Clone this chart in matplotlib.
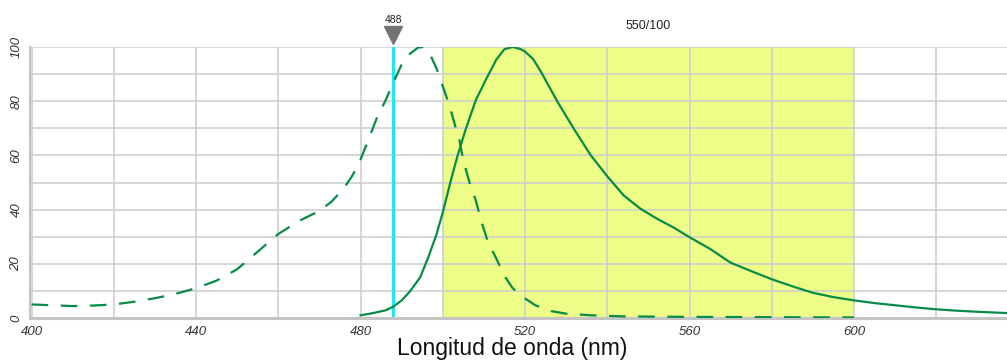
import numpy as np
import matplotlib
matplotlib.use("Agg")
import matplotlib.pyplot as plt
from matplotlib.transforms import blended_transform_factory

plt.rcParams['font.family'] = ['Liberation Sans', 'DejaVu Sans']
plt.rcParams['lines.scale_dashes'] = False

# excitation spectrum (dashed)
ex_nm = [400, 405, 410, 415, 420, 425, 430, 435, 440, 445, 450, 455, 460, 465, 470,
         473, 476, 478, 480, 482, 484, 486, 488, 490, 492, 494, 495, 496, 497, 498.5,
         500, 501.5, 503, 504, 505, 506.5, 508, 509.5, 511, 513, 515, 517, 519.5,
         522.5, 526.5, 530, 536, 544, 560, 580, 600]
ex_val = [5.0, 4.7, 4.4, 4.6, 5.0, 6.0, 7.3, 8.9, 11.0, 13.8, 18.0, 24.5, 31.0, 35.8, 39.5,
          43.0, 48.0, 52.5, 58.5, 66.0, 74.0, 80.0, 87.0, 93.5, 97.5, 99.8, 100, 99.2, 97.0, 92.0,
          85.5, 79.0, 71.0, 66.0, 58.0, 50.0, 43.5, 35.0, 28.0, 22.0, 15.5, 11.0, 7.7,
          4.7, 2.5, 1.6, 1.0, 0.6, 0.4, 0.3, 0.2]

# emission spectrum (solid)
em_nm = [480, 483, 486, 488, 490, 492, 494.5, 496.5, 498.5, 500, 502, 503.5, 505.5, 508,
         510.5, 513, 515, 517, 519, 520, 522, 524, 526, 528, 530, 532, 536, 540, 544, 548,
         552, 556, 560, 565, 570, 575, 580, 585, 590, 595, 600, 605, 610, 615, 620, 625,
         630, 637.5]
em_val = [1.0, 1.8, 2.8, 4.2, 6.5, 9.8, 15.0, 22.5, 31.0, 39.0, 51.0, 59.4, 69.3, 80.3,
          88.0, 95.3, 99.2, 100, 99.2, 98.3, 95.5, 90.5, 85.0, 79.5, 74.5, 69.5, 60.0, 52.3,
          45.2, 40.4, 36.7, 33.5, 29.8, 25.5, 20.4, 17.3, 14.3, 11.7, 9.3, 7.7, 6.5, 5.5,
          4.7, 3.9, 3.2, 2.7, 2.3, 1.8]

laser = 488
filter_center, filter_width = 550, 100
filter_label = "550/100"

green = '#078c48'
grid_c = '#cccccc'

fig = plt.figure(figsize=(10.07, 3.61), dpi=100)
ax = fig.add_axes([29.5 / 1007, 1 - 318 / 361, 1 - 29.5 / 1007, 271 / 361])

# filter band
ax.axvspan(filter_center - filter_width / 2, filter_center + filter_width / 2,
           color='#eefc88', zorder=0, lw=0)

ax.set_xticks(np.arange(400, 621, 20), minor=True)
ax.set_xticks(np.arange(400, 601, 40))
ax.set_yticks(np.arange(0, 101, 10), minor=True)
ax.set_yticks(np.arange(0, 101, 20))
ax.set_xlim(399.5, 637.2)
ax.set_ylim(0, 100)
ax.grid(True, which='both', color=grid_c, lw=1.1, zorder=1)
ax.set_axisbelow(True)
ax.tick_params(which='both', length=0)
ax.tick_params(axis='x', pad=6, labelsize=9.5, labelcolor='#333333')
ax.tick_params(axis='y', pad=5, labelsize=9.5, labelcolor='#333333')
for lab in ax.get_xticklabels():
    lab.set_fontstyle('italic')
for lab in ax.get_yticklabels():
    lab.set_fontstyle('italic')
    lab.set_rotation(90)
    lab.set_va('center')

for s in ['top', 'right']:
    ax.spines[s].set_visible(False)
ax.spines['left'].set_color('#c4c4c4')
ax.spines['left'].set_linewidth(1.5)
ax.spines['bottom'].set_color('#c4c4c4')
ax.spines['bottom'].set_linewidth(2.2)

# laser line
ax.axvline(laser, color='#22e6f2', lw=2.2, zorder=2)

ax.plot(ex_nm, ex_val, color=green, lw=1.6, dashes=(12, 9), zorder=3)
ax.plot(em_nm, em_val, color=green, lw=1.6, zorder=3)

trans = blended_transform_factory(ax.transData, ax.transAxes)
ax.plot([laser], [1.046], marker='v', color='#737373', markersize=13,
        transform=trans, clip_on=False)
ax.text(laser, 1.1, str(laser), transform=trans, ha='center', va='center',
        fontsize=7.5, color='#222222')
ax.text(filter_center, 1.077, filter_label, transform=trans, ha='center', va='center',
        fontsize=9, color='#222222')

fig.text(512 / 1007, 1 - 349 / 361, 'Longitud de onda (nm)', ha='center', va='center',
         fontsize=16.5, color='#111111')

fig.savefig('out.png', dpi=100)
